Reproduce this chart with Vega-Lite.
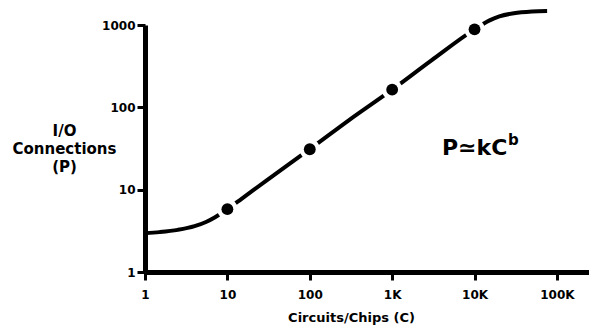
{
  "$schema": "https://vega.github.io/schema/vega-lite/v6.json",
  "width": 444,
  "height": 247,
  "autosize": "none",
  "padding": {"left": 145, "top": 25, "right": 0, "bottom": 54},
  "background": "white",
  "config": {
    "view": {"stroke": null},
    "font": "DejaVu Sans",
    "axis": {
      "grid": false,
      "domainColor": "black",
      "domainWidth": 5,
      "tickColor": "black",
      "tickWidth": 3,
      "tickSize": 8,
      "labelFont": "DejaVu Sans",
      "labelFontWeight": "bold",
      "labelFontSize": 12,
      "labelColor": "black",
      "labelFlush": false,
      "titleFont": "DejaVu Sans",
      "titleFontWeight": "bold",
      "titleColor": "black"
    }
  },
  "datasets": {
    "curve": [
      {"c": 1, "p": 2.95},
      {"c": 1.5, "p": 3.05},
      {"c": 2.5, "p": 3.25},
      {"c": 4, "p": 3.6},
      {"c": 5.5, "p": 4.05},
      {"c": 7, "p": 4.6},
      {"c": 10, "p": 5.8},
      {"c": 15, "p": 7.8},
      {"c": 30, "p": 13.0},
      {"c": 100, "p": 31},
      {"c": 300, "p": 70},
      {"c": 1000, "p": 164},
      {"c": 3000, "p": 372},
      {"c": 10000, "p": 885},
      {"c": 15000, "p": 1130},
      {"c": 20000, "p": 1270},
      {"c": 30000, "p": 1390},
      {"c": 50000, "p": 1460},
      {"c": 76000, "p": 1480}
    ],
    "pts": [
      {"c": 10, "p": 5.8},
      {"c": 100, "p": 31},
      {"c": 1000, "p": 164},
      {"c": 10000, "p": 885}
    ],
    "txt": [
      {"c": 4020, "p": 26.3, "t": "P≃kC", "s": "main"},
      {"c": 25500, "p": 34.8, "t": "b", "s": "sup"}
    ]
  },
  "encoding": {
    "x": {
      "field": "c",
      "type": "quantitative",
      "scale": {"type": "log", "domain": [1, 245000], "nice": false},
      "axis": {
        "values": [1, 10, 100, 1000, 10000, 100000],
        "labelExpr": "datum.value >= 1000 ? (datum.value/1000) + 'K' : datum.value",
        "labelPadding": 9,
        "title": "Circuits/Chips (C)",
        "titleFontSize": 13,
        "titleX": 206,
        "titleY": 45,
        "titleBaseline": "middle",
        "titleAlign": "center"
      }
    },
    "y": {
      "field": "p",
      "type": "quantitative",
      "scale": {"type": "log", "domain": [1, 1000], "nice": false},
      "axis": {
        "values": [1, 10, 100, 1000],
        "format": "d",
        "labelPadding": 2,
        "title": ["I/O", "Connections", "(P)"],
        "titleFontSize": 15,
        "titleAngle": 0,
        "titleAlign": "center",
        "titleBaseline": "top",
        "titleLineHeight": 18,
        "titleX": -81,
        "titleY": 98
      }
    }
  },
  "layer": [
    {
      "data": {"name": "curve"},
      "mark": {"type": "line", "color": "black", "strokeWidth": 4, "interpolate": "monotone", "clip": false}
    },
    {
      "data": {"name": "pts"},
      "mark": {"type": "circle", "color": "white", "opacity": 1, "size": 430}
    },
    {
      "data": {"name": "pts"},
      "mark": {"type": "circle", "color": "black", "opacity": 1, "size": 140}
    },
    {
      "data": {"name": "txt"},
      "transform": [{"filter": "datum.s == 'main'"}],
      "mark": {"type": "text", "align": "left", "baseline": "alphabetic", "fontSize": 22, "fontWeight": "bold", "font": "DejaVu Sans", "color": "black"},
      "encoding": {"text": {"field": "t"}}
    },
    {
      "data": {"name": "txt"},
      "transform": [{"filter": "datum.s == 'sup'"}],
      "mark": {"type": "text", "align": "left", "baseline": "alphabetic", "fontSize": 15, "fontWeight": "bold", "font": "DejaVu Sans", "color": "black"},
      "encoding": {"text": {"field": "t"}}
    }
  ]
}
